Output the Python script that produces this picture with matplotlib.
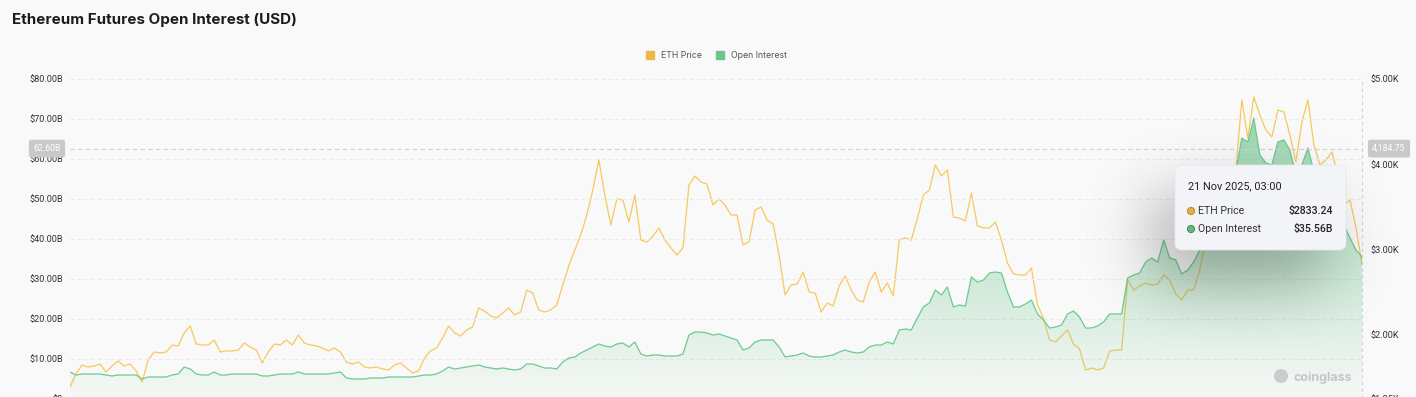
import numpy as np
import pandas as pd
import matplotlib
matplotlib.use("Agg")
import matplotlib.pyplot as plt
import matplotlib.dates as mdates
from matplotlib.patches import FancyBboxPatch, Circle
from matplotlib.lines import Line2D
from matplotlib.transforms import IdentityTransform

plt.rcParams['font.family'] = ['Roboto', 'DejaVu Sans']

# ETH price (USD), oldest -> 21 Nov 2025 03:00
eth_price = [
    1390, 1543, 1648, 1625, 1637, 1660, 1566, 1637, 1695, 1637, 1660, 1578,
    1449, 1707, 1801, 1789, 1801, 1883, 1871, 2024, 2106, 1895, 1883, 1883,
    1942, 1801, 1813, 1813, 1824, 1906, 1859, 1824, 1672, 1801, 1895, 1883,
    1942, 1883, 2000, 1906, 1883, 1871, 1848, 1813, 1848, 1801, 1684, 1660,
    1684, 1625, 1613, 1625, 1602, 1590, 1648, 1672, 1613, 1555, 1578, 1730,
    1813, 1848, 1965, 2106, 2024, 1988, 2059, 2094, 2317, 2281, 2223, 2199,
    2258, 2317, 2234, 2270, 2527, 2492, 2293, 2270, 2293, 2352, 2586, 2809,
    2996, 3172, 3406, 3699, 4051, 3641, 3289, 3594, 3582, 3324, 3641, 3113,
    3090, 3160, 3254, 3113, 3020, 2938, 3020, 3758, 3863, 3793, 3770, 3524,
    3594, 3524, 3406, 3406, 3055, 3090, 3465, 3500, 3348, 3301, 2938, 2469,
    2586, 2598, 2738, 2504, 2492, 2270, 2375, 2340, 2574, 2692, 2527, 2410,
    2387, 2621, 2738, 2504, 2610, 2457, 3113, 3137, 3113, 3360, 3641, 3699,
    3992, 3863, 3934, 3383, 3371, 3336, 3664, 3278, 3254, 3254, 3324, 3113,
    2844, 2715, 2703, 2703, 2785, 2352, 2199, 1942, 1918, 1988, 2059, 1895,
    1836, 1590, 1613, 1590, 1613, 1813, 1824, 1824, 2645, 2527, 2574, 2610,
    2586, 2598, 2703, 2645, 2480, 2410, 2527, 2527, 2762, 3113, 3524, 3758,
    3699, 3524, 3934, 4754, 4309, 4789, 4578, 4403, 4321, 4637, 4614, 4344,
    4028, 4496, 4754, 4227, 3992, 4051, 4145, 3875, 3524, 3582, 3254, 2833.24,
]

# open interest (billion USD), same timestamps
open_interest = [
    6.75, 6.0, 6.25, 6.25, 6.25, 6.25, 6.0, 5.75, 6.0, 6.0, 6.0, 6.0,
    5.0, 5.5, 5.5, 5.5, 5.5, 6.0, 6.25, 8.0, 7.5, 6.25, 6.0, 6.0,
    6.75, 6.0, 6.0, 6.25, 6.25, 6.25, 6.25, 6.25, 5.75, 5.75, 6.0, 6.25,
    6.25, 6.25, 6.75, 6.25, 6.25, 6.25, 6.25, 6.25, 6.5, 6.75, 5.25, 5.0,
    5.0, 5.0, 5.25, 5.25, 5.25, 5.5, 5.5, 5.5, 5.5, 5.5, 5.75, 6.0,
    6.0, 6.25, 7.0, 8.0, 7.5, 7.75, 8.0, 8.25, 8.5, 8.0, 7.75, 7.5,
    7.75, 7.5, 7.25, 7.5, 8.75, 8.75, 8.25, 7.75, 7.75, 7.5, 9.25, 10.25,
    10.5, 11.5, 12.25, 13.0, 13.75, 13.25, 13.0, 13.75, 14.0, 13.0, 14.25, 11.25,
    10.75, 11.0, 11.0, 10.75, 10.75, 10.75, 11.25, 16.0, 16.75, 16.75, 16.5, 16.0,
    16.25, 15.75, 15.25, 14.75, 12.25, 12.75, 14.25, 14.75, 14.75, 14.75, 13.0, 10.5,
    10.75, 11.0, 11.5, 10.75, 10.5, 10.5, 10.75, 11.0, 11.75, 12.25, 11.75, 11.5,
    11.75, 13.0, 13.5, 13.5, 14.25, 13.75, 17.25, 17.5, 17.25, 20.25, 23.0, 24.0,
    27.25, 26.0, 28.0, 23.0, 23.5, 23.25, 30.5, 29.25, 29.75, 31.5, 31.75, 31.5,
    26.75, 23.0, 23.0, 23.75, 24.75, 21.25, 19.75, 17.75, 18.0, 18.5, 21.25, 22.0,
    20.5, 17.75, 17.75, 18.25, 19.25, 21.25, 21.25, 21.25, 30.25, 31.0, 31.5, 34.25,
    35.25, 34.25, 39.75, 35.25, 34.75, 31.25, 32.25, 34.25, 37.25, 40.25, 45.25, 49.25,
    50.75, 52.25, 56.75, 65.25, 64.25, 70.25, 61.0, 59.0, 58.5, 64.25, 64.75, 62.25,
    56.0, 58.5, 62.75, 56.75, 53.5, 52.25, 51.0, 47.25, 43.5, 40.25, 37.25, 35.56,
]

oi_ticks = [0, 10, 20, 30, 40, 50, 60, 70, 80]
oi_labels = ['$0', '$10.00B', '$20.00B', '$30.00B', '$40.00B', '$50.00B',
             '$60.00B', '$70.00B', '$80.00B']
price_ticks = [1250, 2000, 3000, 4000, 5000]
price_labels = ['$1.25K', '$2.00K', '$3.00K', '$4.00K', '$5.00K']

cross_oi = 62.60
cross_price_label = '4,184.75'
tip_time = '21 Nov 2025, 03:00'

dates = pd.date_range('2023-01-06', '2025-11-21 03:00', periods=len(eth_price))

W, H = 1416, 397
BG = '#f9f9f9'
YELLOW = '#f7c85e'
GREEN = '#6ccb90'

fig = plt.figure(figsize=(W / 100, H / 100), dpi=100, facecolor=BG)
ax = fig.add_axes([70 / W, 1 - 399 / H, 1292 / W, 320 / H])
ax2 = ax.twinx()
ax.set_zorder(2)
ax.patch.set_visible(False)

# price line (under the OI fill)
ax2.plot(dates, eth_price, color=YELLOW, lw=0.9, zorder=2)

# open interest line + gradient fill
fill = ax.fill_between(dates, open_interest, 0, color='none', lw=0)
xn = mdates.date2num(dates)
grad = np.linspace(0, 1, 256).reshape(-1, 1)
rgba = np.zeros((256, 1, 4))
rgba[..., 0] = 100 / 255
rgba[..., 1] = 196 / 255
rgba[..., 2] = 135 / 255
rgba[..., 3] = 0.02 + 0.63 * grad
im = ax.imshow(rgba, extent=[xn[0], xn[-1], 0, 72], origin='lower',
               aspect='auto', zorder=1, interpolation='bilinear')
im.set_clip_path(fill.get_paths()[0], transform=ax.transData)
ax.plot(dates, open_interest, color=GREEN, lw=0.9, zorder=3)

ax.set_xlim(xn[0], xn[-1])
ax.set_ylim(0, 80)
ax2.set_ylim(1250, 5000)

ax.set_yticks(oi_ticks)
ax.set_yticklabels(oi_labels)
ax2.set_yticks(price_ticks)
ax2.set_yticklabels(price_labels)
ax.set_xticks([])
ax.tick_params(axis='y', length=0, pad=5, labelsize=6.6, labelcolor='#333333')
ax2.tick_params(axis='y', length=0, pad=6, labelsize=6.6, labelcolor='#333333')
ax.yaxis.grid(True, ls=(0, (4, 3)), color='#e9e9e9', lw=0.7)
ax.set_axisbelow(True)
for a in (ax, ax2):
    for s in a.spines.values():
        s.set_visible(False)

# crosshair
ax.axhline(cross_oi, color='#d2d2d2', ls=(0, (4, 3)), lw=0.8, zorder=4)
ax.axvline(xn[-1], color='#d2d2d2', ls=(0, (3, 3)), lw=0.8, zorder=4, clip_on=False)

ident = IdentityTransform()


def px(x, y):
    return x, H - y


cy = 399 - cross_oi * 4
fig.text(*px(47, cy), f'{cross_oi:.2f}B', transform=ident, ha='center', va='center',
         fontsize=6.3, color='white', zorder=6,
         bbox=dict(boxstyle='round,pad=0.5,rounding_size=0.25', fc='#c9c9c9', ec='none'))
fig.text(*px(1389, cy), cross_price_label, transform=ident, ha='center', va='center',
         fontsize=6.3, color='white', zorder=6,
         bbox=dict(boxstyle='round,pad=0.5,rounding_size=0.25', fc='#c9c9c9', ec='none'))

# title and legend
fig.text(12 / W, 1 - 20 / H, 'Ethereum Futures Open Interest (USD)', fontsize=10.9,
         fontweight='bold', color='#1c1c1c', va='center', family=['Inter', 'DejaVu Sans'])
handles = [Line2D([], [], marker='s', ls='', color='#eab84c', ms=5.5),
           Line2D([], [], marker='s', ls='', color='#6fc48e', ms=5.5)]
fig.legend(handles, ['ETH Price', 'Open Interest'], loc='center',
           bbox_to_anchor=(714 / W, 1 - 56 / H), ncol=2, frameon=False,
           handletextpad=0.3, columnspacing=1.0, labelcolor='#555555',
           prop={'family': ['Inter', 'DejaVu Sans'], 'size': 6.3})

# watermark
fig.text(*px(1294, 378), 'coinglass', transform=ident, ha='left', va='center',
         fontsize=9, fontweight='bold', color='#c6c6c6', zorder=3,
         family=['Inter', 'DejaVu Sans'])
fig.add_artist(Circle(px(1281, 376), 7, transform=ident, fc='#cccccc', ec='none', zorder=3))

# tooltip shadow
box = (1175, 165, 1346, 250)
yy, xx = np.mgrid[0:H, 0:W]
dx, dy, sig = -22, 30, 32
m = ((xx >= box[0] + dx) & (xx <= box[2] + dx) &
     (yy >= box[1] + dy) & (yy <= box[3] + dy)).astype(float)
k = np.exp(-0.5 * (np.arange(-3 * sig, 3 * sig + 1) / sig) ** 2)
k /= k.sum()
m = np.apply_along_axis(lambda r: np.convolve(r, k, 'same'), 1, m)
m = np.apply_along_axis(lambda c: np.convolve(c, k, 'same'), 0, m)
shadow = np.zeros((H, W, 4))
shadow[..., 3] = 0.30 * m
fig.figimage(shadow, 0, 0, origin='upper', zorder=4)

# tooltip box
fig.add_artist(FancyBboxPatch(px(box[0], box[3]), box[2] - box[0], box[3] - box[1],
                              boxstyle='round,pad=0,rounding_size=7', transform=ident,
                              fc='#f2f4f7', ec='#e6e8ec', lw=0.6, zorder=5))
fig.text(*px(1188, 186), tip_time, transform=ident, ha='left', va='center',
         fontsize=7.8, color='#222222', zorder=6)
rows = [('ETH Price', f'${eth_price[-1]:.2f}', '#e3b04a', '#b98a2c', 211),
        ('Open Interest', f'${open_interest[-1]:.2f}B', '#66b97e', '#3f8d57', 229)]
for name, val, fc, ec, ty in rows:
    fig.add_artist(Circle(px(1191, ty), 3.6, transform=ident, fc=fc, ec=ec, lw=0.7, zorder=6))
    fig.text(*px(1198, ty), name, transform=ident, ha='left', va='center',
             fontsize=7.6, color='#333333', zorder=6)
    fig.text(*px(1333, ty), val, transform=ident, ha='right', va='center',
             fontsize=7.6, color='#222222', fontweight='medium', zorder=6)

fig.savefig('out.png', dpi=100, facecolor=BG)
